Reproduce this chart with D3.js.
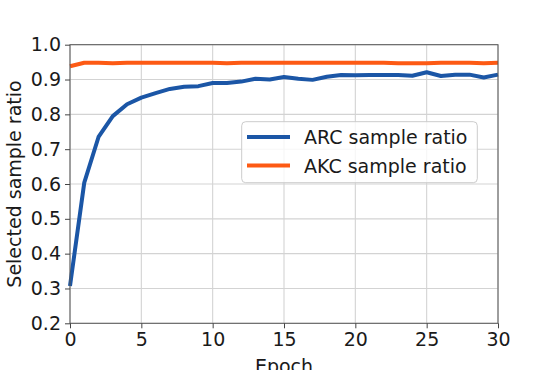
<!DOCTYPE html>
<html><head><meta charset="utf-8">
<script src="https://cdn.jsdelivr.net/npm/d3@7"></script>
<style>
html,body{margin:0;padding:0;background:#fff;overflow:hidden;}
text{font-family:"DejaVu Sans",sans-serif;fill:#1a1a1a;}
</style></head>
<body>
<svg id="chart" width="555" height="370"></svg>
<script>
const epochs = d3.range(0, 31);
const arcRatio = [0.307,0.604,0.735,0.795,0.829,0.848,0.861,0.873,0.879,0.881,0.890,
  0.890,0.894,0.902,0.900,0.907,0.902,0.899,0.908,0.913,0.912,
  0.913,0.913,0.913,0.911,0.921,0.910,0.914,0.914,0.906,0.914];
const akcRatio = [0.938,0.948,0.948,0.947,0.948,0.948,0.948,0.948,0.948,0.948,0.948,
  0.947,0.948,0.948,0.948,0.948,0.948,0.948,0.948,0.948,0.948,
  0.948,0.948,0.947,0.947,0.947,0.948,0.948,0.948,0.947,0.948];
const xTicks = [0,5,10,15,20,25,30];
const yTicks = [0.2,0.3,0.4,0.5,0.6,0.7,0.8,0.9,1.0];
const seriesNames = ["ARC sample ratio","AKC sample ratio"];
const colors = ["#1b56a6","#fd5a14"];

const svg = d3.select("#chart");
const L=70, R=498, T=44.7, B=323.3;
const x = d3.scaleLinear().domain([0,30]).range([L,R]);
const y = d3.scaleLinear().domain([0.2,1.0]).range([B,T]);
const fs = 19;

// grid
svg.append("g").selectAll("line").data(xTicks).join("line")
  .attr("x1",d=>x(d)).attr("x2",d=>x(d)).attr("y1",T).attr("y2",B)
  .attr("stroke","#d3d3d3").attr("stroke-width",1.1);
svg.append("g").selectAll("line").data(yTicks).join("line")
  .attr("x1",L).attr("x2",R).attr("y1",d=>y(d)).attr("y2",d=>y(d))
  .attr("stroke","#d3d3d3").attr("stroke-width",1.1);

// lines
const line = d3.line().x((d,i)=>x(epochs[i])).y(d=>y(d));
[arcRatio, akcRatio].forEach((s,k)=>{
  svg.append("path").datum(s).attr("d",line).attr("fill","none")
    .attr("stroke",colors[k]).attr("stroke-width",4).attr("stroke-linejoin","round");
});

// frame
svg.append("rect").attr("x",L).attr("y",T).attr("width",R-L).attr("height",B-T)
  .attr("fill","none").attr("stroke","#555").attr("stroke-width",1);

// axes
const xAxis = svg.append("g").attr("transform",`translate(0,${B})`)
  .call(d3.axisBottom(x).tickValues(xTicks).tickSize(5).tickPadding(4).tickFormat(d3.format("d")));
const yAxis = svg.append("g").attr("transform",`translate(${L},0)`)
  .call(d3.axisLeft(y).tickValues(yTicks).tickSize(5).tickPadding(4).tickFormat(d3.format(".1f")));
[xAxis,yAxis].forEach(a=>{
  a.select(".domain").remove();
  a.selectAll(".tick line").attr("stroke","#444");
  a.selectAll(".tick text").attr("font-size",fs).attr("font-family","DejaVu Sans").attr("fill","#1a1a1a");
});

// axis labels
svg.append("text").attr("x",(L+R)/2).attr("y",373).attr("text-anchor","middle")
  .attr("font-size",fs).text("Epoch");
svg.append("text").attr("transform",`translate(21,${(T+B)/2}) rotate(-90)`)
  .attr("text-anchor","middle").attr("font-size",fs).text("Selected sample ratio");

// legend
const lg = svg.append("g");
lg.append("rect").attr("x",241.7).attr("y",121.7).attr("width",235.6).attr("height",61)
  .attr("rx",4).attr("fill","rgba(255,255,255,0.8)").attr("stroke","#ccc").attr("stroke-width",1);
seriesNames.forEach((n,i)=>{
  const yy = 137 + i*28.5;
  lg.append("line").attr("x1",247).attr("x2",290).attr("y1",yy).attr("y2",yy)
    .attr("stroke",colors[i]).attr("stroke-width",4);
  lg.append("text").attr("x",304).attr("y",yy+7).attr("font-size",fs).text(n);
});
</script>
</body></html>
